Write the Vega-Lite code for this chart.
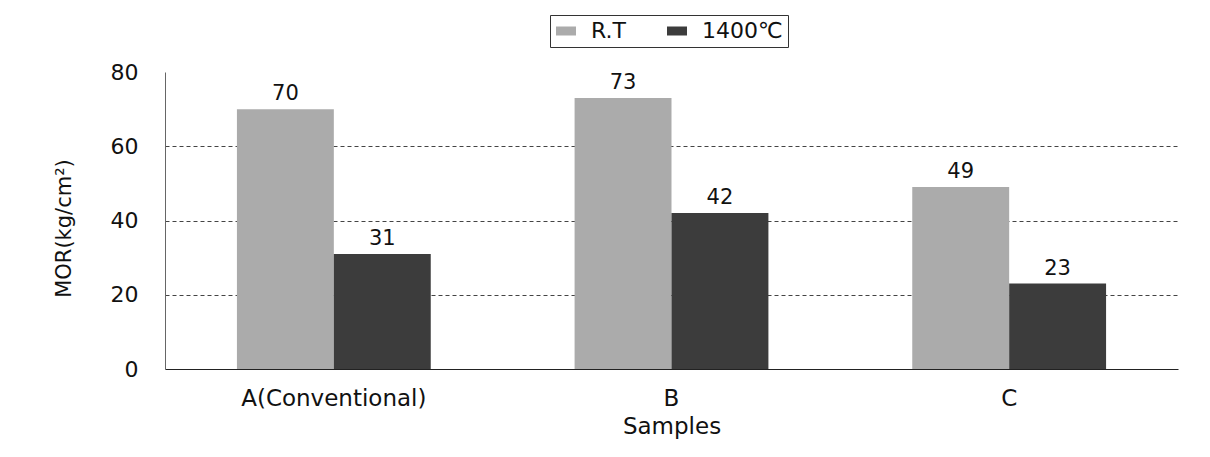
{
  "$schema": "https://vega.github.io/schema/vega-lite/v6.json",
  "autosize": {"type": "none"},
  "padding": {"left": 165, "top": 72, "right": 32, "bottom": 88},
  "width": 1013,
  "height": 297,
  "background": "white",
  "config": {
    "view": {"stroke": null},
    "font": "DejaVu Sans"
  },
  "data": {
    "values": [
      {"sample": "A(Conventional)", "temp": "R.T", "MOR": 70},
      {"sample": "A(Conventional)", "temp": "1400℃", "MOR": 31},
      {"sample": "B", "temp": "R.T", "MOR": 73},
      {"sample": "B", "temp": "1400℃", "MOR": 42},
      {"sample": "C", "temp": "R.T", "MOR": 49},
      {"sample": "C", "temp": "1400℃", "MOR": 23}
    ]
  },
  "encoding": {
    "x": {
      "field": "sample",
      "type": "nominal",
      "sort": ["A(Conventional)", "B", "C"],
      "scale": {"paddingInner": 0.426, "paddingOuter": 0.213},
      "axis": {
        "title": "Samples",
        "labelAngle": 0,
        "labelFontSize": 23,
        "labelLimit": 500,
        "labelColor": "#111",
        "labelBaseline": "top",
        "labelPadding": 18,
        "ticks": false,
        "domainColor": "#222",
        "domainWidth": 1.2,
        "titleFontSize": 23,
        "titleFontWeight": "normal",
        "titleColor": "#111",
        "titleBaseline": "alphabetic",
        "titleY": 64
      }
    },
    "xOffset": {
      "field": "temp",
      "sort": ["R.T", "1400℃"],
      "scale": {"paddingInner": 0, "paddingOuter": 0}
    },
    "y": {
      "field": "MOR",
      "type": "quantitative",
      "scale": {"domain": [0, 80], "nice": false},
      "axis": {
        "title": "MOR(kg/cm²)",
        "values": [0, 20, 40, 60, 80],
        "labelFontSize": 22,
        "labelColor": "#111",
        "labelPadding": 27,
        "ticks": false,
        "domainColor": "#666",
        "grid": true,
        "gridDash": [4, 3],
        "gridWidth": 1,
        "gridColor": {
          "condition": {"test": "datum.value === 0 || datum.value === 80", "value": "transparent"},
          "value": "#444"
        },
        "titleFontSize": 21,
        "titleFontWeight": "normal",
        "titleColor": "#111",
        "titleBaseline": "alphabetic",
        "titleX": -95,
        "titleY": 156
      }
    }
  },
  "layer": [
    {
      "mark": {"type": "bar"},
      "encoding": {
        "color": {
          "field": "temp",
          "type": "nominal",
          "scale": {"domain": ["R.T", "1400℃"], "range": ["#ababab", "#3c3c3c"]},
          "legend": {
            "title": null,
            "orient": "none",
            "direction": "horizontal",
            "legendX": 385,
            "legendY": -57,
            "strokeColor": "#333",
            "fillColor": "white",
            "padding": 5,
            "labelFontSize": 22,
            "labelColor": "#111",
            "labelOffset": 14,
            "columnPadding": 40,
            "symbolType": "M-1,-0.45H1V0.45H-1Z",
            "symbolSize": 400,
            "symbolStrokeWidth": 0
          }
        }
      }
    },
    {
      "mark": {"type": "text", "dy": -9, "baseline": "alphabetic", "fontSize": 21, "color": "#111"},
      "encoding": {
        "text": {"field": "MOR", "type": "quantitative"}
      }
    }
  ]
}
